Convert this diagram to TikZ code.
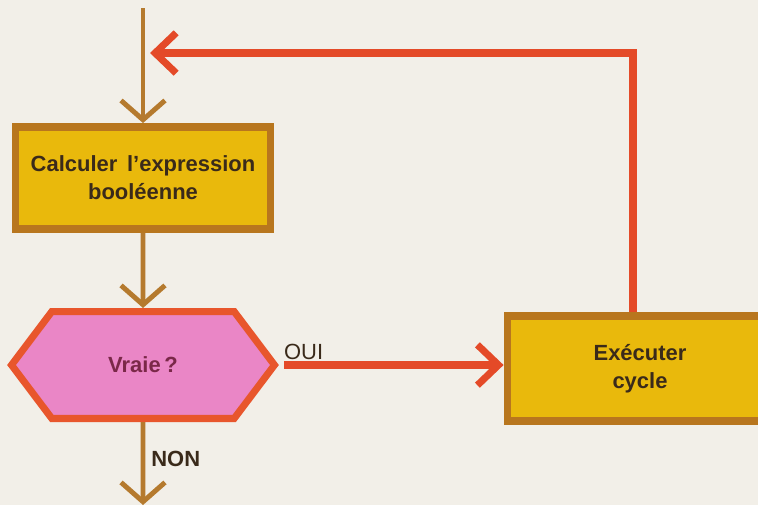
\documentclass[tikz,border=0pt]{standalone}
\usepackage{fontspec}
\setmainfont{Liberation Sans}
\usetikzlibrary{arrows.meta}
\usetikzlibrary{shapes.symbols}
\definecolor{paper}{HTML}{F2EFE8}
\definecolor{boxfill}{HTML}{E9B90C}
\definecolor{boxrim}{HTML}{B8761E}
\definecolor{testfill}{HTML}{EA86C6}
\definecolor{testrim}{HTML}{E8562C}
\definecolor{redline}{HTML}{E44A28}
\definecolor{brownline}{HTML}{B57A2E}
\definecolor{ink}{HTML}{3A2A1A}

\begin{document}
\begin{tikzpicture}[x=0.02cm, y=-0.02cm,
  box/.style={draw=boxrim, fill=boxfill, line width=4.5pt, text=ink, align=center,
    font=\fontsize{12.5}{16}\selectfont\bfseries},
  test/.style={shape=signal, signal to=west and east, signal pointer angle=106,
    draw=testrim, fill=testfill, line width=4pt, text={rgb,255:red,122;green,40;blue,72},
    font=\fontsize{12.5}{16}\selectfont\bfseries},
  flow/.style={draw=brownline, line width=2.8pt, -{Straight Barb[length=11pt, width=25pt]}},
  back/.style={draw=redline, line width=4pt, -{Straight Barb[length=12pt, width=23pt]}},
  tag/.style={text=ink, font=\fontsize{12.5}{15}\selectfont}]
\useasboundingbox[fill=paper] (0,0) rectangle (758,505);

\coordinate (in) at (143,8);
\coordinate (join) at (143,53);
\coordinate (out) at (143,505);

\node[box, minimum width=5.1cm, minimum height=2.04cm] (calc) at (143,178)
  {Calculer\, l'expression\\booléenne};
\node[test, minimum width=5.26cm, minimum height=2.14cm] (vraie) at (143,365) {Vraie\,?};
% right edge of this box runs off the page
\node[box, minimum width=5.3cm, minimum height=2.1cm] (exec) at (640,368.5)
  {Exécuter\\cycle};

\draw[flow] (in) -- (calc);
\draw[flow] (calc) -- (vraie);
\draw[flow] (vraie) -- node[tag, right, pos=0.45, font=\fontsize{12.5}{15}\selectfont\bfseries] {NON} (out);
\draw[back, shorten <=3pt] (vraie.east) -- node[tag, above right, pos=0, inner sep=1pt] {OUI} (vraie.east -| exec.west);
\draw[back, shorten >=4pt] ([xshift=-0.14cm]exec.north) |- (join);
\end{tikzpicture}
\end{document}
